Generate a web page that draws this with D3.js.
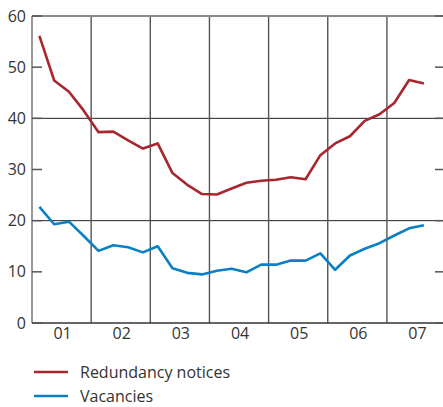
<!DOCTYPE html>
<html><head><meta charset="utf-8">
<script src="https://cdn.jsdelivr.net/npm/d3@7"></script>
<style>body{margin:0;background:#fff;}svg{display:block;font-family:"Open Sans",sans-serif;}</style>
</head><body><svg id="c" width="443" height="407"></svg>
<script>
const years = ["01","02","03","04","05","06","07"];
const yTicks = [0,10,20,30,40,50,60];
const redundancy = [56.1,47.4,45.2,41.5,37.3,37.4,35.7,34.1,35.1,29.3,27.0,25.2,25.1,26.3,27.4,27.8,28.0,28.5,28.1,32.8,35.1,36.5,39.5,40.8,43.0,47.5,46.8];
const vacancies = [22.7,19.3,19.8,17.0,14.1,15.2,14.8,13.8,15.0,10.7,9.8,9.5,10.2,10.6,9.9,11.4,11.4,12.2,12.2,13.6,10.4,13.2,14.5,15.6,17.1,18.5,19.1];
const seriesNames = ["Redundancy notices","Vacancies"];
const colors = ["#a8262e","#0a80c4"];

const svg = d3.select("#c");
const L=32, R=443, T=16, B=323;
const x = d3.scaleLinear().domain([0,7]).range([L, L+7*59.15]);
const y = d3.scaleLinear().domain([0,60]).range([B,T]);
const qx = i => x((i+0.5)/4);

svg.selectAll(".g").data([20,40]).join("line")
  .attr("x1",L).attr("x2",R).attr("y1",d=>y(d)).attr("y2",d=>y(d))
  .attr("stroke","#222").attr("stroke-width",1);
svg.selectAll(".v").data(d3.range(1,7)).join("line")
  .attr("x1",d=>x(d)).attr("x2",d=>x(d)).attr("y1",T).attr("y2",B)
  .attr("stroke","#555").attr("stroke-width",1.4);
svg.append("line").attr("x1",L).attr("x2",R).attr("y1",T).attr("y2",T).attr("stroke","#8a8a8a").attr("stroke-width",2);
svg.append("line").attr("x1",L).attr("x2",L).attr("y1",T).attr("y2",B).attr("stroke","#777").attr("stroke-width",1.5);
svg.append("line").attr("x1",L).attr("x2",R).attr("y1",B).attr("y2",B).attr("stroke","#333").attr("stroke-width",1.5);

svg.selectAll(".tl").data(yTicks).join("line")
  .attr("x1",L).attr("x2",L+10).attr("y1",d=>y(d)).attr("y2",d=>y(d))
  .attr("stroke","#555").attr("stroke-width",1.5);
svg.selectAll(".tr").data(yTicks).join("line")
  .attr("x1",R-8).attr("x2",R).attr("y1",d=>y(d)).attr("y2",d=>y(d))
  .attr("stroke","#555").attr("stroke-width",1.5);

svg.selectAll(".yl").data(yTicks).join("text")
  .attr("x",26).attr("y",d=>y(d)).attr("dy","0.35em").attr("text-anchor","end")
  .attr("font-size",16).attr("fill","#333").text(d=>d);
svg.selectAll(".xl").data(years).join("text")
  .attr("x",(d,i)=>x(i+0.5)+1).attr("y",339).attr("text-anchor","middle")
  .attr("font-size",16).attr("fill","#333").text(d=>d);

const line = d3.line().x((d,i)=>qx(i)).y(d=>y(d));
[redundancy,vacancies].forEach((s,k)=>{
  svg.append("path").attr("d",line(s)).attr("fill","none")
    .attr("stroke",colors[k]).attr("stroke-width",2.6).attr("stroke-linejoin","round");
});

seriesNames.forEach((n,k)=>{
  const ly = 372 + k*24;
  svg.append("line").attr("x1",34).attr("x2",68).attr("y1",ly).attr("y2",ly)
    .attr("stroke",colors[k]).attr("stroke-width",2.6);
  svg.append("text").attr("x",80).attr("y",ly).attr("dy","0.35em")
    .attr("font-size",16).attr("fill","#333").text(n);
});
</script></body></html>
